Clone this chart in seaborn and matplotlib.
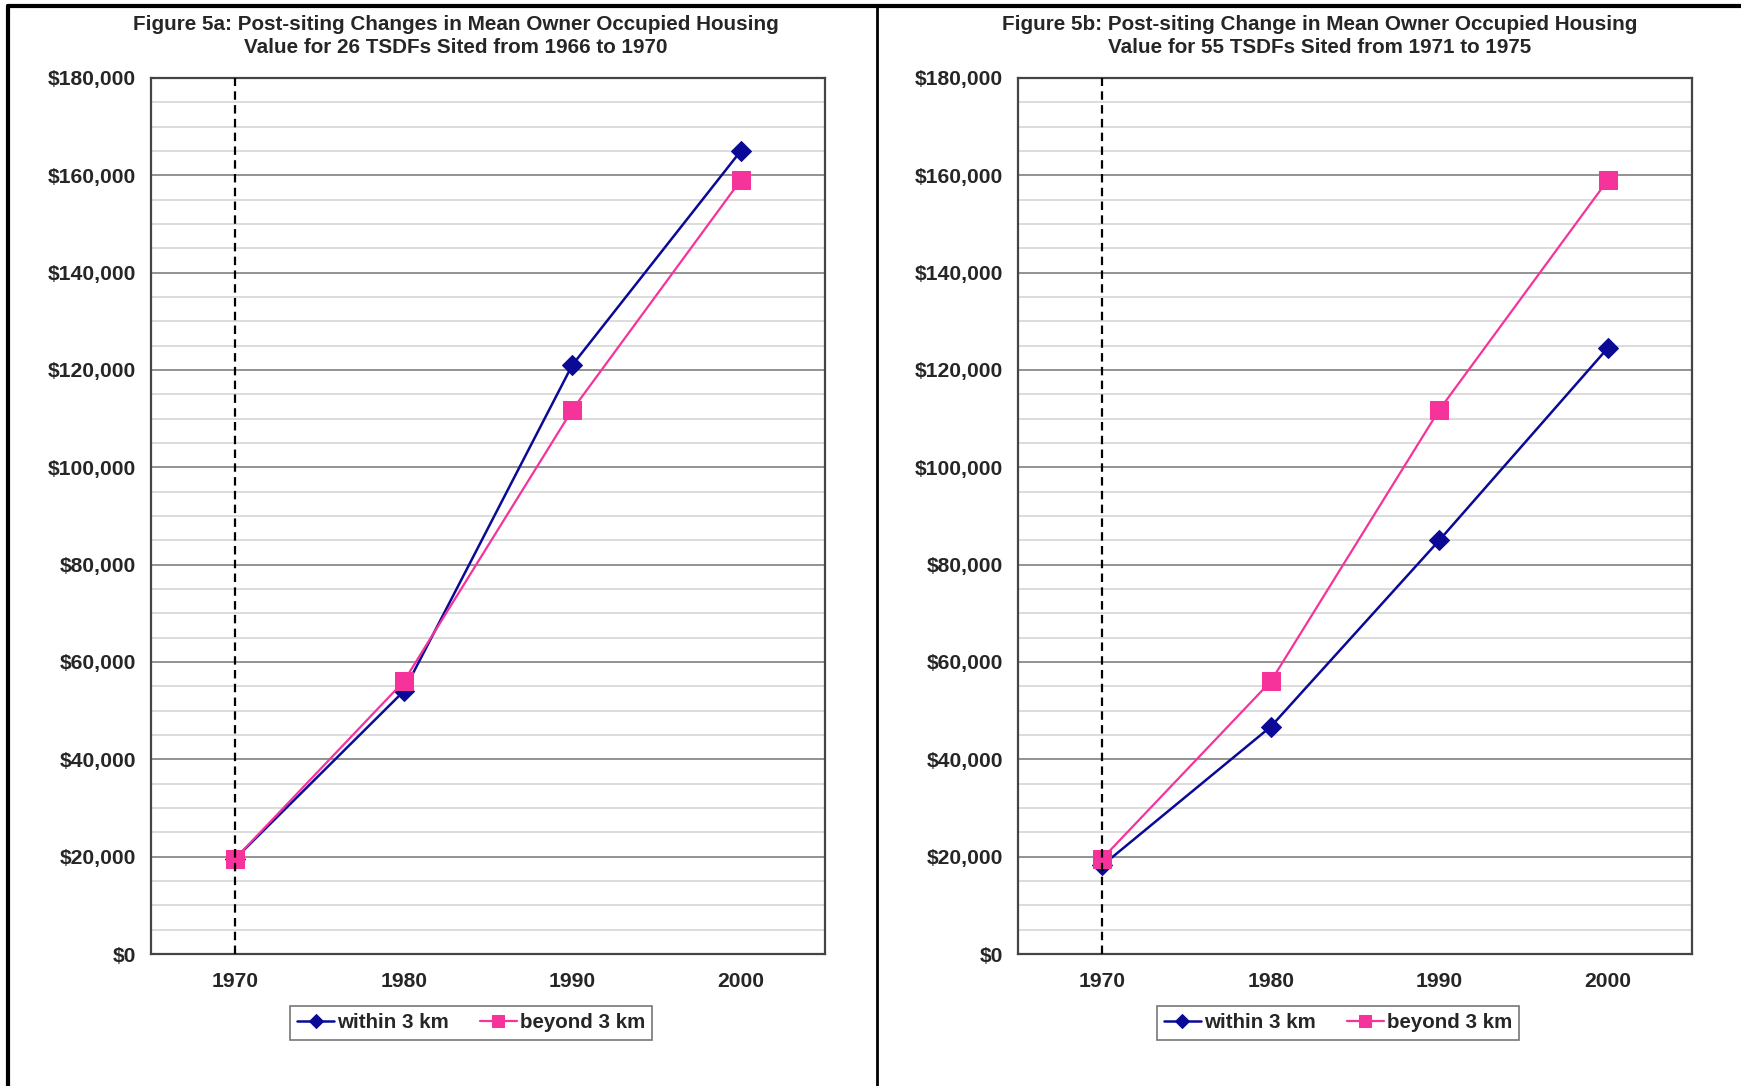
import matplotlib
matplotlib.use('Agg')

import numpy as np
import pandas as pd
import matplotlib.pyplot as plt
from matplotlib.lines import Line2D
from matplotlib.ticker import FuncFormatter, MultipleLocator, FixedLocator
import seaborn as sns

sns.set_style('white')
plt.rcParams['font.family'] = ['Liberation Sans', 'DejaVu Sans']
plt.rcParams['font.weight'] = 'bold'

# 데이터
years = [1970, 1980, 1990, 2000]
within_a = [19600, 54000, 121000, 165000]
beyond_a = [19600, 56000, 111800, 159000]
within_b = [18200, 46700, 85000, 124500]
beyond_b = [19600, 56000, 111800, 159000]

titles = [
    'Figure 5a: Post-siting Changes in Mean Owner Occupied Housing\nValue for 26 TSDFs Sited from 1966 to 1970',
    'Figure 5b: Post-siting Change in Mean Owner Occupied Housing\nValue for 55 TSDFs Sited from 1971 to 1975',
]
siting_year = 1970

BLUE = '#0a0a96'
PINK = '#f5339a'

W, H = 1741, 1086
fig = plt.figure(figsize=(W / 100, H / 100), dpi=100)

panels = [
    dict(left=151, title_x=456, leg_x=471, within=within_a, beyond=beyond_a, title=titles[0]),
    dict(left=1018, title_x=1320, leg_x=1338, within=within_b, beyond=beyond_b, title=titles[1]),
]

for p in panels:
    ax = fig.add_axes([p['left'] / W, 1 - 954 / H, 674 / W, (954 - 78) / H])
    df = pd.DataFrame({'year': years, 'within': p['within'], 'beyond': p['beyond']})

    sns.lineplot(data=df, x='year', y='within', ax=ax, color=BLUE, marker='D',
                 markersize=10, markeredgecolor=BLUE, linewidth=1.8,
                 label='within 3 km', zorder=3)
    sns.lineplot(data=df, x='year', y='beyond', ax=ax, color=PINK, marker='s',
                 markersize=12.5, markeredgecolor=PINK, linewidth=1.6,
                 label='beyond 3 km', zorder=4)

    ax.axvline(siting_year, color='black', linewidth=1.6, linestyle=(0, (3.8, 2.4)), zorder=5)

    ax.set_xlim(1965, 2005)
    ax.set_ylim(0, 180000)

    # y축
    ax.yaxis.set_major_locator(MultipleLocator(20000))
    ax.yaxis.set_minor_locator(MultipleLocator(5000))
    ax.yaxis.set_major_formatter(FuncFormatter(lambda v, _: f'${v:,.0f}'))
    ax.grid(which='major', axis='y', color='#8a8a8a', linewidth=1.3, zorder=0)
    ax.grid(which='minor', axis='y', color='#d2d2d2', linewidth=1.1, zorder=0)
    ax.tick_params(axis='y', which='major', direction='out', length=7, width=1.4,
                   color='#444444', labelsize=15.2, pad=4)
    ax.tick_params(axis='y', which='minor', direction='in', length=4, width=1.2, color='#444444')

    # x축: 눈금선은 구간 경계, 라벨은 가운데
    ax.xaxis.set_major_locator(FixedLocator([1965, 1975, 1985, 1995, 2005]))
    ax.xaxis.set_major_formatter(FuncFormatter(lambda v, _: ''))
    ax.xaxis.set_minor_locator(FixedLocator(years))
    ax.xaxis.set_minor_formatter(FuncFormatter(lambda v, _: f'{v:.0f}'))
    ax.tick_params(axis='x', which='major', direction='out', length=7, width=1.4, color='#444444')
    ax.tick_params(axis='x', which='minor', length=0, labelsize=15.2, pad=13)
    for lab in ax.get_xticklabels(minor=True) + ax.get_yticklabels():
        lab.set_fontweight('bold')

    ax.set_xlabel('')
    ax.set_ylabel('')
    for s in ax.spines.values():
        s.set_visible(True)
        s.set_color('#444444')
        s.set_linewidth(1.6)

    handles, labels = ax.get_legend_handles_labels()
    leg = ax.legend(handles, labels, loc='center', bbox_to_anchor=(p['leg_x'] / W, 1 - 1023 / H),
                    bbox_transform=fig.transFigure, ncol=2, frameon=True, fancybox=False,
                    edgecolor='#555555', markerscale=0.7, handlelength=1.8,
                    handletextpad=0.15, columnspacing=1.5, borderpad=0.35,
                    prop={'weight': 'bold', 'size': 14.8})
    leg.get_frame().set_linewidth(1.2)

    fig.text(p['title_x'] / W, 1 - 36 / H, p['title'], ha='center', va='center',
             fontsize=14.9, fontweight='bold', linespacing=1.22)

# 바깥 테두리
fig.add_artist(Line2D([8 / W, 1], [1 - 6 / H, 1 - 6 / H], color='black', linewidth=3))
fig.add_artist(Line2D([8 / W, 8 / W], [0, 1 - 6 / H], color='black', linewidth=3))
fig.add_artist(Line2D([877 / W, 877 / W], [0, 1 - 6 / H], color='black', linewidth=2))

plt.savefig('out.png', dpi=100)
plt.close()
print('[OK] out.png')
